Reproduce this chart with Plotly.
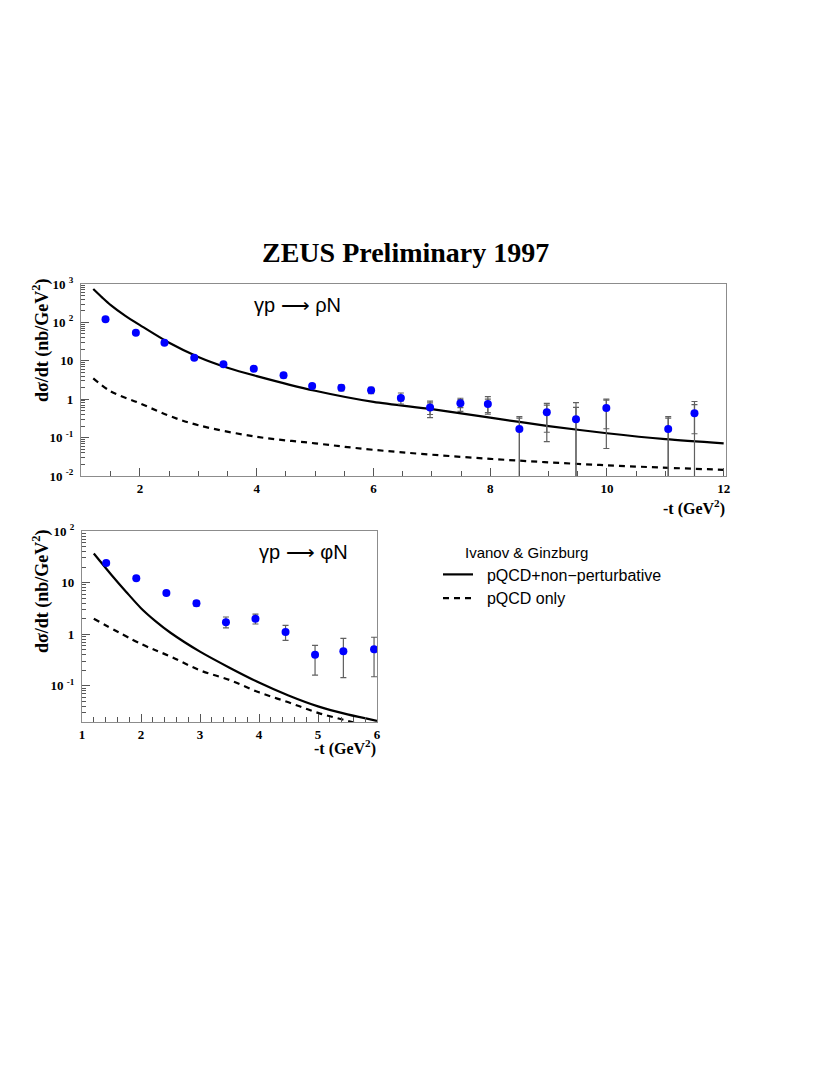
import plotly.graph_objects as go

# page body has an 8px margin, so the figure sits at (8, 8)
OFF = 8
W, H = 830 - OFF, 1075 - OFF

# ---- gamma p -> rho N (top panel) ----
rho_t = [1.41, 1.93, 2.42, 2.93, 3.43, 3.95, 4.46, 4.95, 5.45, 5.96,
         6.47, 6.97, 7.49, 7.96, 8.50, 8.97, 9.47, 9.99, 11.05, 11.50]
rho_y = [120, 54, 29.5, 12, 8.1, 6.2, 4.2, 2.2, 2.0, 1.7,
         1.07, 0.61, 0.78, 0.75, 0.168, 0.46, 0.30, 0.59, 0.168, 0.43]
rho_tot_hi = [132, 59, 32.5, 13.3, 9.0, 6.9, 4.8, 2.55, 2.35, 2.05,
              1.45, 0.89, 1.06, 1.16, 0.35, 0.78, 0.81, 1.0, 0.35, 0.87]
rho_tot_lo = [108, 49, 26.8, 10.8, 7.3, 5.5, 3.6, 1.9, 1.65, 1.4,
              0.74, 0.33, 0.48, 0.41, 1e-4, 0.079, 1e-4, 0.052, 1e-4, 1e-4]
rho_stat_hi = [125, 56, 30.8, 12.6, 8.5, 6.5, 4.4, 2.35, 2.15, 1.85,
               1.22, 0.80, 0.98, 1.0, 0.32, 0.70, 0.61, 0.95, 0.32, 0.72]
rho_stat_lo = [115, 52, 28.2, 11.4, 7.7, 5.9, 4.0, 2.05, 1.85, 1.55,
               0.90, 0.40, 0.60, 0.45, 1e-4, 0.138, 1e-4, 0.17, 1e-4, 0.126]

rho_full_t = [1.2, 1.35, 1.5, 1.75, 2.0, 2.5, 3.0, 3.5, 4.0, 5.0, 6.0, 7.0, 8.0, 9.0, 10.0, 11.0, 12.0]
rho_full_y = [740, 450, 282, 148, 85, 29.5, 12.6, 6.6, 4.0, 1.66, 0.85, 0.55, 0.33, 0.2, 0.13, 0.091, 0.071]
rho_pqcd_t = [1.2, 1.5, 2.0, 2.5, 3.0, 4.0, 5.0, 6.0, 8.0, 10.0, 12.0]
rho_pqcd_y = [3.5, 1.6, 0.78, 0.37, 0.21, 0.105, 0.071, 0.048, 0.028, 0.019, 0.0145]

# ---- gamma p -> phi N (bottom panel) ----
phi_t = [1.41, 1.92, 2.43, 2.94, 3.44, 3.94, 4.45, 4.95, 5.43, 5.95]
phi_y = [24, 12.2, 6.3, 4.0, 1.7, 2.0, 1.1, 0.40, 0.47, 0.51]
phi_hi = [26, 13.2, 6.8, 4.45, 2.16, 2.45, 1.49, 0.61, 0.83, 0.875]
phi_lo = [22, 11.3, 5.8, 3.5, 1.33, 1.58, 0.76, 0.162, 0.144, 0.15]

phi_full_t = [1.2, 1.5, 1.75, 2.0, 2.25, 2.5, 3.0, 3.5, 4.0, 4.5, 5.0, 5.5, 6.0]
phi_full_y = [36.7, 14.1, 6.6, 3.2, 1.78, 1.07, 0.46, 0.225, 0.116, 0.065, 0.04, 0.028, 0.021]
phi_pqcd_t = [1.2, 2.0, 2.5, 3.0, 3.5, 4.0, 4.5, 5.0, 5.5, 6.0]
phi_pqcd_y = [2.0, 0.65, 0.37, 0.2, 0.13, 0.075, 0.048, 0.03, 0.021, 0.015]

top_yticks = [1e-2, 1e-1, 1, 10, 100, 1000]
top_ytext = ["10 <sup>-2</sup>", "10 <sup>-1</sup>", "1", "10", "10 <sup>2</sup>", "10 <sup>3</sup>"]
bot_yticks = [1e-1, 1, 10, 100]
bot_ytext = ["10 <sup>-1</sup>", "1", "10", "10 <sup>2</sup>"]

SERIF = "Liberation Serif"
SANS = "Liberation Sans"
GREY = "#606060"
NB = "\u00a0"


def minor_log(lo, hi):
    vals = []
    for e in range(lo, hi):
        for m in range(2, 10):
            vals.append(m * 10 ** e)
    return vals


def px(x):
    return (x - OFF) / W


def py(y):
    return 1 - (y - OFF) / H


fig = go.Figure()


def add_errors(t, y, hi, lo, xa, ya):
    fig.add_trace(go.Scatter(
        x=t, y=y, mode="markers", xaxis=xa, yaxis=ya, showlegend=False,
        marker=dict(color="rgba(0,0,0,0)", size=1),
        error_y=dict(type="data", symmetric=False,
                     array=[h - v for h, v in zip(hi, y)],
                     arrayminus=[v - l for l, v in zip(lo, y)],
                     color=GREY, thickness=1.2, width=3)))


# curves
fig.add_trace(go.Scatter(x=rho_full_t, y=rho_full_y, mode="lines", xaxis="x", yaxis="y",
                         line=dict(color="black", width=2.2, shape="spline", smoothing=0.8),
                         name=NB * 2 + "pQCD+non\u2212perturbative"))
fig.add_trace(go.Scatter(x=rho_pqcd_t, y=rho_pqcd_y, mode="lines", xaxis="x", yaxis="y",
                         line=dict(color="black", width=2.2, dash="6px,5px", shape="spline"),
                         name=NB * 2 + "pQCD only"))
fig.add_trace(go.Scatter(x=phi_full_t, y=phi_full_y, mode="lines", xaxis="x2", yaxis="y2",
                         line=dict(color="black", width=2.2, shape="spline", smoothing=0.8),
                         showlegend=False))
fig.add_trace(go.Scatter(x=phi_pqcd_t, y=phi_pqcd_y, mode="lines", xaxis="x2", yaxis="y2",
                         line=dict(color="black", width=2.2, dash="6px,5px", shape="spline"),
                         showlegend=False))

# error bars (total + statistical) and points
add_errors(rho_t, rho_y, rho_tot_hi, rho_tot_lo, "x", "y")
add_errors(rho_t, rho_y, rho_stat_hi, rho_stat_lo, "x", "y")
add_errors(phi_t, phi_y, phi_hi, phi_lo, "x2", "y2")

fig.add_trace(go.Scatter(x=rho_t, y=rho_y, mode="markers", xaxis="x", yaxis="y", showlegend=False,
                         marker=dict(color="#0000ff", size=8)))
fig.add_trace(go.Scatter(x=phi_t, y=phi_y, mode="markers", xaxis="x2", yaxis="y2", showlegend=False,
                         marker=dict(color="#0000ff", size=8)))

axis_common = dict(
    showline=True, mirror=True, linecolor="#8c8c8c", linewidth=1.2,
    ticks="inside", tickcolor="#555555", showgrid=False, zeroline=False,
    tickfont=dict(family=SERIF, size=13, color="black", weight="bold"),
    automargin=False,
)

fig.update_layout(
    width=W, height=H,
    margin=dict(l=0, r=0, t=0, b=0),
    paper_bgcolor="white", plot_bgcolor="white",
    xaxis=dict(domain=[px(81), px(726)], range=[0.99, 12.04], anchor="y",
               tickvals=[2, 4, 6, 8, 10, 12], ticklen=8,
               minor=dict(ticks="inside", ticklen=5, tickcolor="#555555", dtick=0.5, tick0=1),
               **axis_common),
    yaxis=dict(domain=[py(476), py(284)], type="log", range=[-2, 3], anchor="x",
               tickvals=top_yticks, ticktext=top_ytext, ticklen=8, ticklabelstandoff=4,
               minor=dict(ticks="inside", ticklen=4, tickcolor="#555555",
                          tickmode="array", tickvals=minor_log(-2, 3)),
               **axis_common),
    xaxis2=dict(domain=[px(82), px(377)], range=[1, 6], anchor="y2",
                tickvals=[1, 2, 3, 4, 5, 6], ticklen=8,
                minor=dict(ticks="inside", ticklen=5, tickcolor="#555555", dtick=0.2, tick0=1),
                **axis_common),
    yaxis2=dict(domain=[py(722), py(531)], type="log", range=[-1.70, 2.0], anchor="x2",
                tickvals=bot_yticks, ticktext=bot_ytext, ticklen=8, ticklabelstandoff=4,
                minor=dict(ticks="inside", ticklen=4, tickcolor="#555555",
                           tickmode="array", tickvals=minor_log(-2, 2)),
                **axis_common),
    legend=dict(x=px(438), y=py(538), xanchor="left", yanchor="top",
                bgcolor="rgba(0,0,0,0)",
                font=dict(family=SANS, size=16, color="black"),
                title=dict(text=NB * 6 + "Ivanov &amp; Ginzburg",
                           font=dict(family=SANS, size=15, color="black"))),
    showlegend=True,
)

ann = [
    dict(text="<b>ZEUS Preliminary 1997</b>", x=px(405), y=py(253),
         font=dict(family=SERIF, size=28, color="black")),
    dict(text="\u03b3p \u27f6 \u03c1N", x=px(297), y=py(305),
         font=dict(family=SANS, size=20, color="black")),
    dict(text="\u03b3p \u27f6 \u03c6N", x=px(303), y=py(552),
         font=dict(family=SANS, size=20, color="black")),
    dict(text="<b>d\u03c3/dt (nb/GeV<sup>2</sup>)</b>", x=px(41), y=py(340), textangle=-90,
         font=dict(family=SERIF, size=18, color="black")),
    dict(text="<b>d\u03c3/dt (nb/GeV<sup>2</sup>)</b>", x=px(41), y=py(591), textangle=-90,
         font=dict(family=SERIF, size=18, color="black")),
    dict(text="<b>-t (GeV<sup>2</sup>)</b>", x=px(727), y=py(508), xanchor="right",
         font=dict(family=SERIF, size=16, color="black")),
    dict(text="<b>-t (GeV<sup>2</sup>)</b>", x=px(378), y=py(747), xanchor="right",
         font=dict(family=SERIF, size=16, color="black")),
]
for a in ann:
    a.setdefault("xanchor", "center")
    fig.add_annotation(xref="paper", yref="paper", showarrow=False, yanchor="middle", **a)

fig.write_html("out.html")
